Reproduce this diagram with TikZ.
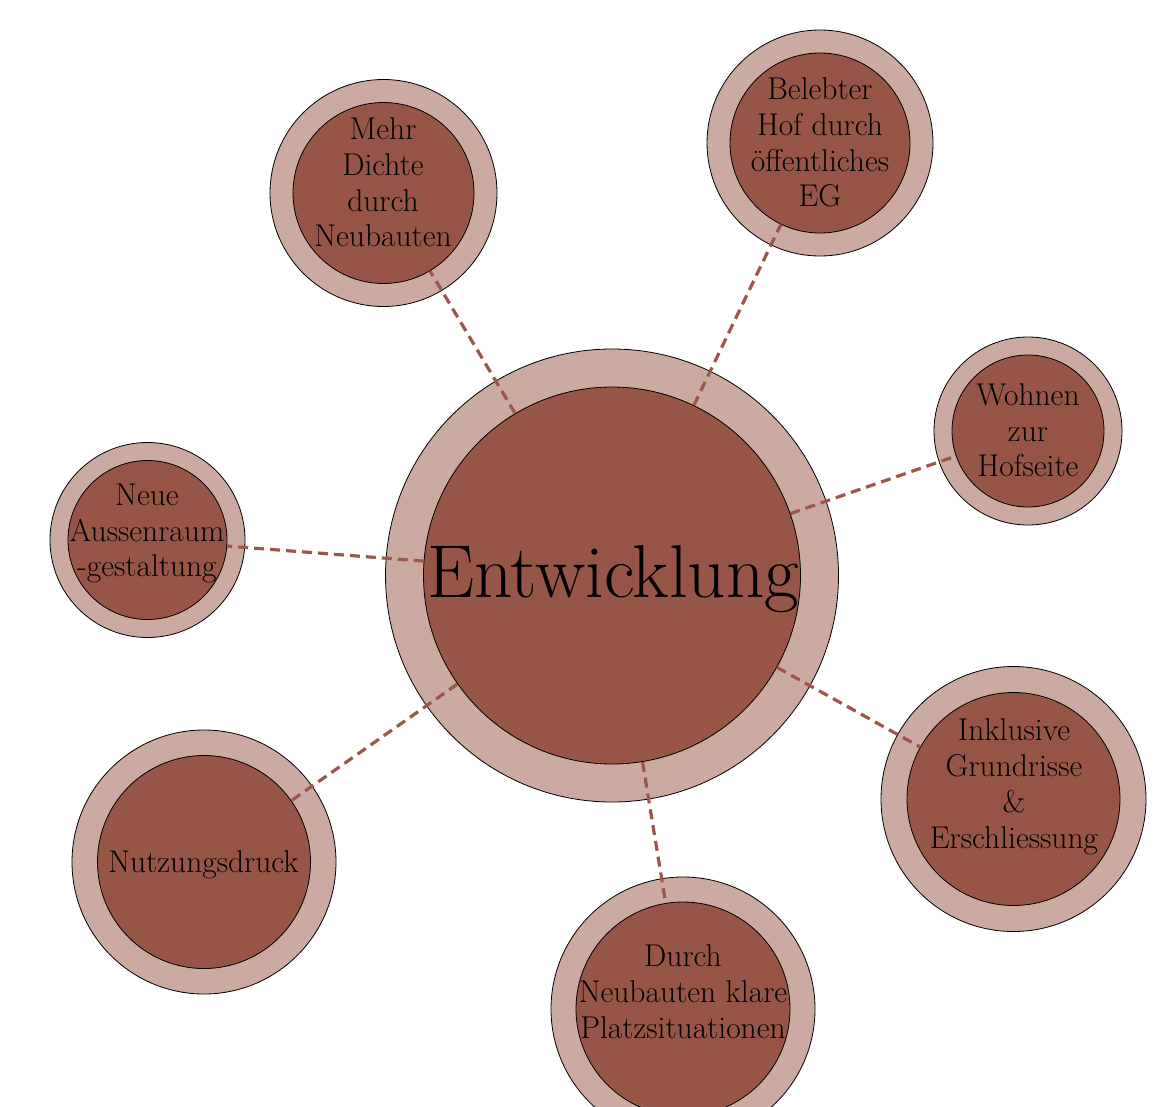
\documentclass[tikz,border=0pt]{standalone}
\usepackage{fontspec}
\definecolor{innerfill}{RGB}{150,85,70}
\definecolor{outerfill}{RGB}{203,170,161}
\definecolor{connclr}{RGB}{155,88,73}
\begin{document}
\begin{tikzpicture}[x=1pt,y=-1pt,
  outerc/.style={circle,draw=black,line width=0.8pt,fill=outerfill,inner sep=0pt,minimum size=#1},
  innerc/.style={circle,draw=black,line width=0.8pt,fill=innerfill,inner sep=0pt,minimum size=#1},
  conn/.style={draw=connclr,line width=3.2pt,dash pattern=on 10pt off 6pt},
  lbl/.style={align=center,inner sep=0pt,anchor=base,font=\fontsize{31.5}{35.7}\selectfont},
  biglbl/.style={inner sep=0pt,anchor=base,font=\fontsize{75}{80}\selectfont}]
\useasboundingbox (0,0) rectangle (1158,1106);
% outer rings
\node[outerc=453pt] (co) at (612,575.5) {};
\node[outerc=227pt] (mo) at (383.5,193) {};
\node[outerc=226pt] (bo) at (820,143) {};
\node[outerc=188pt] (wo) at (1028,431) {};
\node[outerc=195pt] (no) at (147.5,540) {};
\node[outerc=264pt] (uo) at (204,862) {};
\node[outerc=264pt] (do) at (683,1009) {};
\node[outerc=265pt] (io) at (1013.5,799) {};
% inner discs
\node[innerc=377pt] (ci) at (612,575.5) {};
\node[innerc=181pt] (mi) at (383.5,193) {};
\node[innerc=180pt] (bi) at (820,143) {};
\node[innerc=152pt] (wi) at (1028,431) {};
\node[innerc=159pt] (ni) at (147.5,540) {};
\node[innerc=213pt] (ui) at (204,862) {};
\node[innerc=214pt] (di) at (683,1009) {};
\node[innerc=213pt] (ii) at (1013.5,799) {};
% connectors
\draw[conn] (ci) -- (mi);
\draw[conn] (ci) -- (bi);
\draw[conn] (ci) -- (wi);
\draw[conn] (ci) -- (ni);
\draw[conn] (ci) -- (ui);
\draw[conn] (ci) -- (di);
\draw[conn] (ci) -- (ii);
% labels (anchor = baseline of last line)
\node[biglbl] (ct) at (613,597.3) {Entwicklung};
\node[lbl] (mt) at (383,246.7) {Mehr\\Dichte\\durch\\Neubauten};
\node[lbl] (bt) at (820,206.7) {Belebter\\Hof durch\\öffentliches\\EG};
\node[lbl] (wt) at (1028,476.7) {Wohnen\\zur\\Hofseite};
\node[lbl] (nt) at (147,576.7) {Neue\\Aussenraum\\-gestaltung};
\node[lbl] (ut) at (203.5,872.7) {Nutzungsdruck};
\node[lbl] (dt) at (683,1038) {Durch\\Neubauten klare\\Platzsituationen};
\node[lbl] (it) at (1014,848) {Inklusive\\Grundrisse\\\&\\Erschliessung};
\end{tikzpicture}
\end{document}
